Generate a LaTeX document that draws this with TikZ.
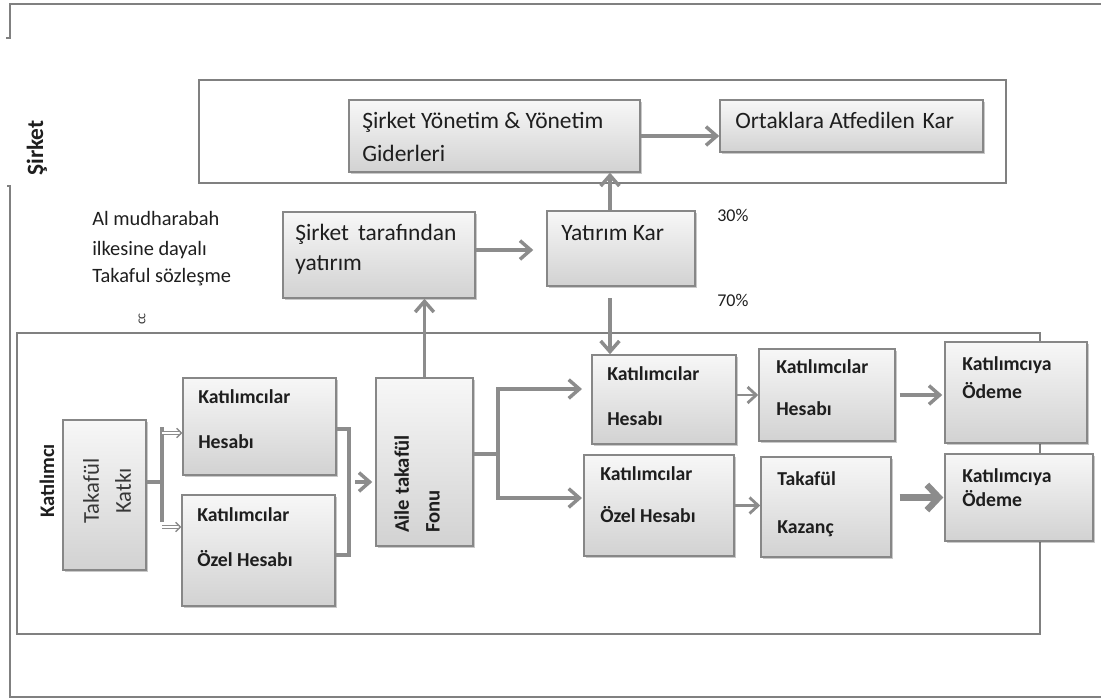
\documentclass[tikz,border=0pt]{standalone}
\usepackage{fontspec}
\setmainfont{Carlito}
\usetikzlibrary{arrows.meta,shadows,fit,calc}

\definecolor{framegray}{RGB}{128,128,128}
\definecolor{arrowgray}{RGB}{140,140,140}
\definecolor{boxline}{RGB}{135,135,135}
\definecolor{boxtop}{RGB}{247,247,247}
\definecolor{boxbottom}{RGB}{210,210,210}
\definecolor{inkgray}{RGB}{30,30,30}
\definecolor{softink}{RGB}{55,55,55}

\begin{document}
\begin{tikzpicture}[x=0.75pt,y=-0.75pt,
  frameline/.style={draw=framegray, line width=2pt},
  panel/.style={draw=framegray, line width=1.3pt},
  box/.style={draw=boxline, line width=1.1pt, inner sep=0pt,
    top color=boxtop, bottom color=boxbottom,
    drop shadow={shadow xshift=1.8pt, shadow yshift=-1.8pt, opacity=0.3, fill=black!70}},
  uptext/.style={font=\fontsize{17.6}{20}\selectfont, text=inkgray, inner sep=0pt, anchor=base west},
  lowtext/.style={font=\bfseries\fontsize{14.8}{17}\selectfont, text=inkgray, inner sep=0pt, anchor=base west},
  notetext/.style={font=\fontsize{15.3}{17}\selectfont, text=inkgray, inner sep=0pt, anchor=base west},
  pcttext/.style={font=\fontsize{13.5}{15}\selectfont, text=inkgray, inner sep=0pt, anchor=base west},
  conn/.style={draw=arrowgray, line width=2.6pt},
  arr/.style={conn, -{Straight Barb[length=8pt,width=14pt]}},
  arrsmall/.style={draw=arrowgray, line width=2.1pt, -{Straight Barb[length=6.5pt,width=12pt]}},
  arrbig/.style={draw=arrowgray, line width=4.8pt, -{Straight Barb[length=9pt,width=19pt]}},
  dblarr/.style={draw=arrowgray, line width=1pt, double=white, double distance=1.4pt,
    -{Straight Barb[length=3.5pt,width=7pt]}}
]
\useasboundingbox (0,0) rectangle (1101,700);

% outer frame
\draw[frameline] (1101,4) -- (10,4) -- (10,38) -- (6,38);
\draw[frameline] (7,186) -- (10,186) -- (10,697) -- (1101,697);

% company panel and participant panel
\draw[panel] (199,80) rectangle (1006,183);
\draw[panel] (17,333) rectangle (1040,634);

% side labels
\node[font=\bfseries\fontsize{17.5}{20}\selectfont, text=inkgray, rotate=90, inner sep=0pt] (sirket) at (37,148) {Şirket};
\node[font=\bfseries\fontsize{15.5}{18}\selectfont, text=inkgray, rotate=90, inner sep=0pt] (katilimci) at (47,481) {Katılımcı};

% boxes
\node[box, fit={(349,100)(640,172)}] (sy) {};
\node[box, fit={(720,100)(983,152)}] (ok) {};
\node[box, fit={(283,212)(475,298)}] (st) {};
\node[box, fit={(547,211)(695,286)}] (yk) {};
\node[box, fit={(63,420)(146,570)}] (tk) {};
\node[box, fit={(183,378)(336,475)}] (kh1) {};
\node[box, fit={(182,495)(335,606)}] (kz1) {};
\node[box, fit={(376,378)(473,546)}] (af) {};
\node[box, fit={(592,355)(736,444)}] (kh2) {};
\node[box, fit={(584,455)(734,556)}] (kz2) {};
\node[box, fit={(759,349)(895,441)}] (kh3) {};
\node[box, fit={(761,457)(891,557)}] (tkz) {};
\node[box, fit={(945,342)(1087,443)}] (od1) {};
\node[box, fit={(945,454)(1093,541)}] (od2) {};

% box texts
\node[uptext] (sy1) at (362,128) {Şirket Yönetim \& Yönetim};
\node[uptext] (sy2) at (362,161) {Giderleri};
\node[uptext] (ok1) at (735,128) {Ortaklara Atfedilen\,\,Kar};
\node[uptext] (st1) at (295,240) {Şirket\, tarafından};
\node[uptext] (st2) at (295,270) {yatırım};
\node[uptext] (yk1) at (561,240) {Yatırım Kar};

\node[font=\fontsize{17}{24}\selectfont, text=softink, rotate=90, align=center, inner sep=0pt] (tk1) at (107,491) {Takafül\\Katkı};
\node[font=\bfseries\fontsize{15.5}{23}\selectfont, text=inkgray, rotate=90, align=left, inner sep=0pt] (af1) at (417,484) {Aile takafül\\Fonu};

\node[lowtext] (kh1a) at (198,403) {Katılımcılar};
\node[lowtext] (kh1b) at (198,448) {Hesabı};
\node[lowtext] (kz1a) at (197,521) {Katılımcılar};
\node[lowtext] (kz1b) at (197,566) {Özel Hesabı};
\node[lowtext] (kh2a) at (607,380) {Katılımcılar};
\node[lowtext] (kh2b) at (607,425) {Hesabı};
\node[lowtext] (kz2a) at (600,480) {Katılımcılar};
\node[lowtext] (kz2b) at (600,522) {Özel Hesabı};
\node[lowtext] (kh3a) at (776,373) {Katılımcılar};
\node[lowtext] (kh3b) at (776,415) {Hesabı};
\node[lowtext] (tkza) at (777,485) {Takafül};
\node[lowtext] (tkzb) at (777,533) {Kazanç};
\node[lowtext] (od1a) at (962,370) {Katılımcıya};
\node[lowtext] (od1b) at (962,398) {Ödeme};
\node[lowtext] (od2a) at (962,482) {Katılımcıya};
\node[lowtext] (od2b) at (962,506) {Ödeme};

% free texts
\node[notetext] (n1) at (92,225) {Al mudharabah};
\node[notetext] (n2) at (92,255) {ilkesine dayalı};
\node[notetext] (n3) at (92,282) {Takaful sözleşme};
\node[font=\fontsize{10.5}{11}\selectfont, text=softink, rotate=90, inner sep=0pt] (cc) at (142,319) {cc};
\node[pcttext] (p30) at (717,221) {30\%};
\node[pcttext] (p70) at (717,306) {70\%};

% connector points
\coordinate (upx) at (610,0);
\coordinate (ydown) at (610,298);
\coordinate (tbar) at (162,482);
\coordinate (tbtop) at (162,427);
\coordinate (tbbot) at (162,522);
\coordinate (tba) at (162,433);
\coordinate (tbb) at (162,527);
\coordinate (bk1) at (349,429);
\coordinate (bk2) at (349,555);
\coordinate (bkm) at (355,482);
\coordinate (split) at (498,454);
\coordinate (tipA) at (582,389);
\coordinate (tipB) at (582,498);

% company flows
\draw[arr] (sy.east) -- (sy.east -| ok.west);
\draw[arr] (yk.north -| upx) -- (sy.south -| upx);
\draw[arr] (st.east |- 0,250) -- ($(yk.west |- 0,250)+(-13,0)$);
\draw[arr] (af.north) -- (af.north |- st.south);
\draw[arr] (ydown) -- (ydown |- kh2.north);

% contribution split
\draw[conn] (tk.east |- tbar) -- (tbar);
\draw[conn] (tbtop) -- (tbbot);
\draw[dblarr] (tba) -- (tba -| kh1.west);
\draw[dblarr] (tbb) -- (tbb -| kz1.west);

% accounts into the family fund
\draw[conn] (kh1.east |- bk1) -- (bk1) -- (bk2) -- (kz1.east |- bk2);
\draw[arr] (bkm) -- ($(bkm -| af.west)+(-3,0)$);

% fund out to the accounts
\draw[conn] (af.east |- split) -- (split);
\draw[arr] (split) |- (tipA);
\draw[arr] (split) |- (tipB);

% payouts
\draw[arrsmall] (kh2.east |- kh3.west) -- (kh3.west);
\draw[arr] ($(kh3.east)+(4,0)$) -- ($(kh3.east -| od1.west)+(-2,0)$);
\draw[arrsmall] (kz2.east) -- (kz2.east -| tkz.west);
\draw[arrbig] ($(tkz.east |- od2.west)+(8,0)$) -- ($(od2.west)+(-1,0)$);

\end{tikzpicture}
\end{document}
